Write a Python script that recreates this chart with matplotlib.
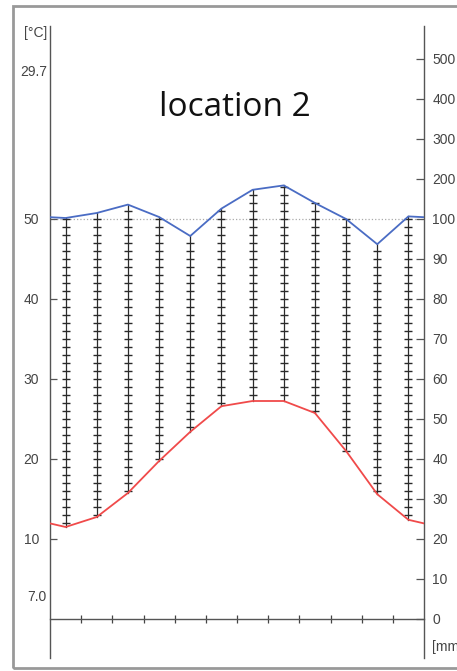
#Walter-Lieth style climate diagram, location 2

import numpy as np
import matplotlib
matplotlib.use('Agg')
import matplotlib.pyplot as plt
from matplotlib.patches import Rectangle

plt.rcParams['font.family'] = ['Liberation Sans', 'DejaVu Sans']

#monthly data
months = np.arange(12) + 0.5
temp = [11.5, 12.75, 15.75, 19.75, 23.4, 26.6, 27.25, 27.25, 25.75, 21.0, 15.6, 12.4]      #deg C
prec = [102.5, 115, 136, 105, 95.75, 126, 173, 184, 140, 100, 93.7, 106.5]               #mm

left_ticks = [10, 20, 30, 40, 50]
right_ticks = [0, 10, 20, 30, 40, 50, 60, 70, 80, 90, 100, 200, 300, 400, 500]
t_max_label = '29.7'
t_min_label = '7.0'
title = 'location 2'

#precip -> temperature units (20 mm = 10 C below 100 mm, compressed above)
def ptrans(p):
    p = np.asarray(p, dtype=float)
    return np.where(p <= 100, p / 2.0, 50 + (p - 100) / 20.0)

W, H = 457, 671
fig = plt.figure(figsize=(W / 100, H / 100), dpi=100)
ax = fig.add_axes([50 / W, 13 / H, 374 / W, 632 / H])
ax.set_xlim(0, 12)
ax.set_ylim(-4.875, 74.125)

#wrap the curves to the edges
tt = np.array(temp)
pp = ptrans(prec)
t_edge = (tt[0] + tt[-1]) / 2
p_edge = (pp[0] + pp[-1]) / 2
xs = np.concatenate([[0], months, [12]])

#humid period hatching
for x, t, p in zip(months, tt, pp):
    if p > t:
        ax.plot([x, x], [t, p], color='#2a2a2a', lw=0.9, zorder=2)
        ys = np.arange(np.ceil(t), np.floor(p) + 1)
        ax.plot(np.full(len(ys), x), ys, ls='none', marker='_', ms=5.5,
                mew=1.0, color='#2a2a2a', zorder=2)

ax.plot([0, 12], [50, 50], ls=':', color='#aaaaaa', lw=0.9, zorder=1)
ax.plot(xs, np.concatenate([[t_edge], tt, [t_edge]]), color='#f04a4a', lw=1.3, zorder=3)
ax.plot(xs, np.concatenate([[p_edge], pp, [p_edge]]), color='#4a6cc4', lw=1.3, zorder=3)

#axes styling
ax.spines['top'].set_visible(False)
ax.spines['bottom'].set_position(('data', 0))
for s in ['left', 'right', 'bottom']:
    ax.spines[s].set_color('#555555')
    ax.spines[s].set_linewidth(1.0)

ax.set_xticks(range(1, 12))
ax.tick_params(axis='x', direction='inout', length=6, width=0.9, color='#444444',
               labelbottom=False)

ax.set_yticks(left_ticks)
ax.set_yticklabels([str(v) for v in left_ticks])
ax.tick_params(axis='y', direction='in', length=5, width=0.9, color='#555555',
               labelsize=10, labelcolor='#444444', pad=8)

ax2 = ax.twinx()
ax2.set_ylim(ax.get_ylim())
for s in ['top', 'bottom', 'left', 'right']:
    ax2.spines[s].set_visible(False)
ax2.set_yticks(ptrans(right_ticks))
ax2.set_yticklabels([str(v) for v in right_ticks])
ax2.tick_params(axis='y', direction='in', length=6, width=0.9, color='#555555',
                labelsize=10, labelcolor='#444444', pad=6)

for lab, y in [('[°C]', 73.25), (t_max_label, 68.4), (t_min_label, 2.75)]:
    ax.text(-0.1, y, lab, ha='right', va='center', fontsize=10, color='#444444')
ax.text(12.26, -3.5, '[mm]', ha='left', va='center', fontsize=10, color='#444444',
        clip_on=False)

fig.text(235 / W, 1 - 108 / H, title, ha='center', va='center', fontsize=24,
         family='Open Sans', color='#111111')

#outer frame
fig.patches.append(Rectangle((12.5 / W, 3 / H), 1.2, 662 / H, transform=fig.transFigure,
                             fill=False, ec='#999999', lw=2.0, clip_on=False))

plt.savefig('out.png', dpi=100)
